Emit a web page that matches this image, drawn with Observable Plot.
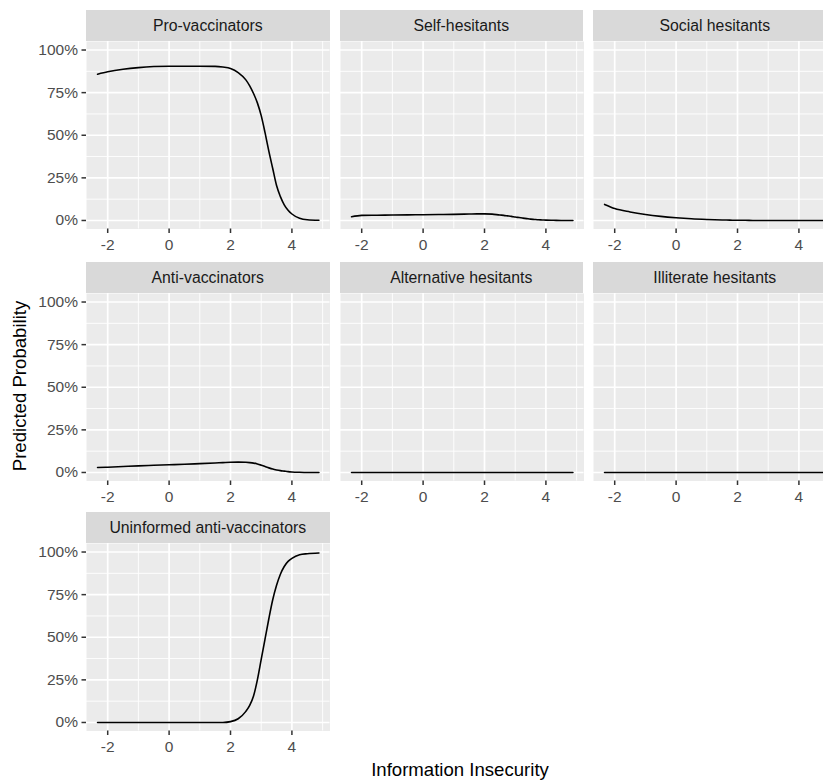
<!DOCTYPE html>
<html>
<head>
<meta charset="utf-8">
<script src="https://cdn.jsdelivr.net/npm/d3@7"></script>
<script src="https://cdn.jsdelivr.net/npm/@observablehq/plot@0.6"></script>
<style>
  html, body { margin: 0; padding: 0; background: #ffffff; overflow: hidden; }
  #chart { position: relative; width: 823px; height: 781px; overflow: hidden; font-family: "Liberation Sans", Arial, sans-serif; }
  .strip { position: absolute; background: #D9D9D9; color: #1A1A1A; font-size: 15.8px; display: flex; align-items: center; justify-content: center; white-space: nowrap; }
  .panel { position: absolute; }
  .title { position: absolute; color: #000; font-size: 18.6px; white-space: nowrap; }
</style>
</head>
<body>
<div id="chart"></div>
<script>
// ---- data ----
const groups = [
  "Pro-vaccinators", "Self-hesitants", "Social hesitants",
  "Anti-vaccinators", "Alternative hesitants", "Illiterate hesitants",
  "Uninformed anti-vaccinators"
];
const insecurity = [-2.33, -2, -1.5, -1, -0.5, 0, 0.5, 1, 1.5, 1.75, 2, 2.25, 2.5, 2.625, 2.75, 2.875, 3, 3.125, 3.25, 3.375, 3.5, 3.625, 3.75, 3.875, 4, 4.25, 4.5, 4.88];
const proVaccinators = [0.858, 0.872, 0.887, 0.897, 0.903, 0.905, 0.905, 0.905, 0.904, 0.900, 0.892, 0.868, 0.825, 0.790, 0.745, 0.690, 0.615, 0.515, 0.405, 0.305, 0.205, 0.140, 0.092, 0.060, 0.038, 0.013, 0.004, 0.001];
const selfHesitants = [0.022, 0.030, 0.031, 0.032, 0.033, 0.034, 0.035, 0.036, 0.038, 0.039, 0.039, 0.037, 0.032, 0.030, 0.027, 0.024, 0.020, 0.017, 0.014, 0.011, 0.008, 0.006, 0.004, 0.003, 0.002, 0.001, 0, 0];
const socialHesitants = [0.094, 0.070, 0.050, 0.035, 0.024, 0.016, 0.010, 0.006, 0.003, 0.002, 0.001, 0.001, 0, 0, 0, 0, 0, 0, 0, 0, 0, 0, 0, 0, 0, 0, 0, 0];
const antiVaccinators = [0.029, 0.031, 0.035, 0.039, 0.042, 0.045, 0.048, 0.052, 0.056, 0.058, 0.060, 0.061, 0.060, 0.058, 0.055, 0.050, 0.043, 0.035, 0.027, 0.020, 0.015, 0.011, 0.008, 0.005, 0.003, 0.001, 0, 0];
const alternativeHesitants = [0, 0, 0, 0, 0, 0, 0, 0, 0, 0, 0, 0, 0, 0, 0, 0, 0, 0, 0, 0, 0, 0, 0, 0, 0, 0, 0, 0];
const illiterateHesitants = [0, 0, 0, 0, 0, 0, 0, 0, 0, 0, 0, 0, 0, 0, 0, 0, 0, 0, 0, 0, 0, 0, 0, 0, 0, 0, 0, 0];
const uninformedAntiVaccinators = [0, 0, 0, 0, 0, 0, 0, 0, 0, 0, 0.005, 0.022, 0.065, 0.100, 0.155, 0.250, 0.370, 0.490, 0.610, 0.720, 0.805, 0.870, 0.915, 0.945, 0.963, 0.984, 0.990, 0.994];
const xTicks = [-2, 0, 2, 4];
const xMinor = [-1, 1, 3, 5];
const yTicks = [0, 0.25, 0.5, 0.75, 1];
const yMinor = [0.125, 0.375, 0.625, 0.875];
const xTitle = "Information Insecurity";
const yTitle = "Predicted Probability";

const seriesValues = [proVaccinators, selfHesitants, socialHesitants, antiVaccinators,
  alternativeHesitants, illiterateHesitants, uninformedAntiVaccinators];

// ---- layout ----
const PW = 243.5, PH = 187.5, STRIP = 31, AXIS_H = 32;
const colLeft = [86, 339.5, 593];
const rowTop = [10, 262, 512];
const ext = d3.extent(insecurity);
const pad = (ext[1] - ext[0]) * 0.05;
const xDomain = [ext[0] - pad, ext[1] + pad];
const yDomain = [-0.05, 1.05];
const fmtX = d => (d < 0 ? "-" + Math.abs(d) : String(d));
const fmtY = d => Math.round(d * 100) + "%";

const chart = document.getElementById("chart");

groups.forEach((name, i) => {
  const r = Math.floor(i / 3), c = i % 3;
  const ml = c === 0 ? colLeft[0] : 0;
  const data = insecurity.map((x, k) => ({x, p: seriesValues[i][k]}));

  const strip = document.createElement("div");
  strip.className = "strip";
  strip.style.left = colLeft[c] + "px";
  strip.style.top = rowTop[r] + "px";
  strip.style.width = PW + "px";
  strip.style.height = STRIP + "px";
  strip.textContent = name;
  chart.appendChild(strip);

  const plot = Plot.plot({
    width: ml + PW,
    height: PH + AXIS_H,
    marginLeft: ml, marginRight: 0, marginTop: 0, marginBottom: AXIS_H,
    x: {domain: xDomain, axis: null},
    y: {domain: yDomain, axis: null},
    style: {fontFamily: "'Liberation Sans', Arial, sans-serif", background: "transparent", overflow: "visible"},
    marks: [
      Plot.frame({fill: "#EBEBEB", stroke: null}),
      Plot.gridX(xMinor, {stroke: "#ffffff", strokeOpacity: 1, strokeWidth: 0.9}),
      Plot.gridY(yMinor, {stroke: "#ffffff", strokeOpacity: 1, strokeWidth: 0.9}),
      Plot.gridX(xTicks, {stroke: "#ffffff", strokeOpacity: 1, strokeWidth: 1.7}),
      Plot.gridY(yTicks, {stroke: "#ffffff", strokeOpacity: 1, strokeWidth: 1.7}),
      Plot.line(data, {x: "x", y: "p", stroke: "#000000", strokeWidth: 1.6, curve: "monotone-x"}),
      Plot.axisX(xTicks, {label: null, tickSize: 4.5, tickPadding: 5, stroke: "#333333", strokeWidth: 1.5,
        fill: "#4D4D4D", fontSize: 15.5, tickFormat: fmtX}),
      c === 0 ? Plot.axisY(yTicks, {label: null, tickSize: 4.5, tickPadding: 4, stroke: "#333333", strokeWidth: 1.5,
        fill: "#4D4D4D", fontSize: 15.5, tickFormat: fmtY}) : null
    ]
  });
  plot.classList.add("panel");
  plot.style.left = (colLeft[c] - ml) + "px";
  plot.style.top = (rowTop[r] + STRIP) + "px";
  chart.appendChild(plot);
});

const yt = document.createElement("div");
yt.className = "title";
yt.textContent = yTitle;
yt.style.left = "20px"; yt.style.top = "386px";
yt.style.transform = "translate(-50%, -50%) rotate(-90deg)";
chart.appendChild(yt);

const xt = document.createElement("div");
xt.className = "title";
xt.textContent = xTitle;
xt.style.left = "460px"; xt.style.top = "770px";
xt.style.transform = "translate(-50%, -50%)";
chart.appendChild(xt);
</script>
</body>
</html>
